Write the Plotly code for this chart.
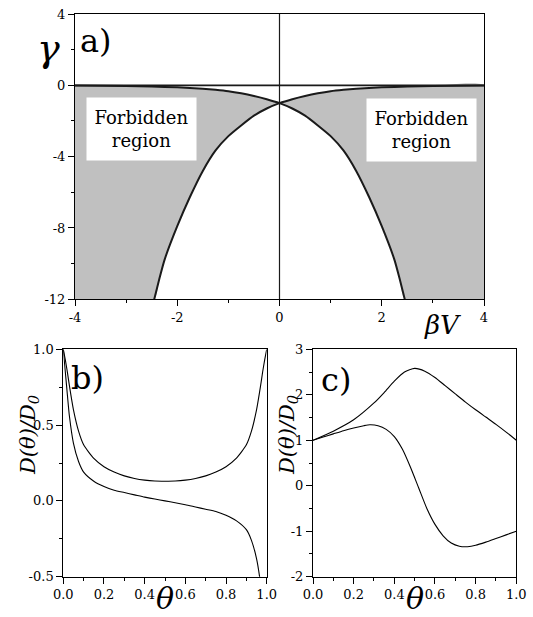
import plotly.graph_objects as go

# ---------- Panel a data ----------
bv_a = [-4, -3, -2.5, -2, -1.5, -1.25, -1, -0.75, -0.5, -0.25, 0,
        0.25, 0.5, 0.75, 1.0, 1.25, 1.5, 1.75, 2.0, 2.25, 2.35, 2.45]
gamma_a = [-0.015, -0.04, -0.07, -0.11, -0.19, -0.25, -0.33, -0.45, -0.6, -0.78, -1.0,
           -1.3, -1.7, -2.25, -2.85, -3.65, -4.8, -6.25, -7.9, -9.8, -10.85, -12.0]
bv_b = [4, 3, 2.5, 2, 1.5, 1.25, 1, 0.75, 0.5, 0.25, 0,
        -0.25, -0.5, -0.75, -1.0, -1.25, -1.5, -1.75, -2.0, -2.25, -2.35, -2.45]
gamma_b = [-0.015, -0.04, -0.07, -0.11, -0.19, -0.25, -0.33, -0.45, -0.6, -0.78, -1.0,
           -1.3, -1.7, -2.25, -2.85, -3.65, -4.8, -6.25, -7.9, -9.8, -10.85, -12.0]
a_xticks = [-4, -2, 0, 2, 4]
a_xticktext = ["-4", "-2", "0", "2", "4"]
a_yticks = [4, 0, -4, -8, -12]
a_yticktext = ["4", "0", "-4", "-8", "-12"]

# ---------- Panel b data ----------
theta_b_up = [0, 0.01, 0.02, 0.03, 0.05, 0.075, 0.1, 0.15, 0.2, 0.25, 0.3, 0.35, 0.4, 0.45, 0.5,
              0.55, 0.6, 0.65, 0.7, 0.75, 0.8, 0.85, 0.9, 0.925, 0.95, 0.97, 0.98, 0.99, 1.0]
d_b_up = [1.0, 0.93, 0.85, 0.76, 0.60, 0.46, 0.37, 0.28, 0.225, 0.19, 0.165, 0.148, 0.137, 0.131, 0.13,
          0.131, 0.137, 0.148, 0.165, 0.19, 0.225, 0.28, 0.37, 0.46, 0.60, 0.76, 0.85, 0.93, 1.0]
theta_b_lo = [0, 0.01, 0.02, 0.03, 0.05, 0.075, 0.1, 0.15, 0.2, 0.25, 0.3, 0.35, 0.4, 0.45, 0.5,
              0.55, 0.6, 0.65, 0.7, 0.75, 0.8, 0.85, 0.9, 0.925, 0.95, 0.965, 0.975]
d_b_lo = [1.0, 0.85, 0.70, 0.56, 0.38, 0.26, 0.19, 0.13, 0.095, 0.07, 0.055, 0.04, 0.025, 0.012, 0.0,
          -0.012, -0.025, -0.04, -0.055, -0.07, -0.095, -0.13, -0.19, -0.26, -0.38, -0.5, -0.62]
b_yticks = [1.0, 0.5, 0.0, -0.5]
b_yticktext = ["1.0", "0.5", "0.0", "-0.5"]

# ---------- Panel c data ----------
theta_c_up = [0, 0.1, 0.2, 0.3, 0.35, 0.4, 0.45, 0.5, 0.55, 0.6, 0.65, 0.7, 0.75, 0.8, 0.85, 0.9, 0.95, 1.0]
d_c_up = [1.0, 1.2, 1.45, 1.82, 2.05, 2.3, 2.5, 2.58, 2.52, 2.38, 2.2, 2.02, 1.84, 1.67, 1.51, 1.35, 1.18, 1.0]
theta_c_lo = [0, 0.05, 0.1, 0.15, 0.2, 0.25, 0.28, 0.32, 0.36, 0.4, 0.44, 0.48, 0.52, 0.56, 0.6,
              0.64, 0.68, 0.72, 0.76, 0.8, 0.85, 0.9, 0.95, 1.0]
d_c_lo = [1.0, 1.07, 1.14, 1.21, 1.27, 1.32, 1.34, 1.32, 1.24, 1.08, 0.8, 0.4, -0.05, -0.5, -0.85,
          -1.1, -1.26, -1.33, -1.34, -1.31, -1.24, -1.16, -1.08, -1.0]
c_yticks = [3, 2, 1, 0, -1, -2]
c_yticktext = ["3", "2", "1", "0", "-1", "-2"]

theta_ticks = [0, 0.2, 0.4, 0.6, 0.8, 1.0]
theta_ticktext = ["0.0", "0.2", "0.4", "0.6", "0.8", "1.0"]

SERIF = "DejaVu Serif"
GRAY = "#c0c0c0"

fig = go.Figure()

# Forbidden regions (fills), built from the curve arrays
left_x = [x for x in bv_a if x <= 0] + [x for x in bv_b if x <= 0] + [-4]
left_y = [g for x, g in zip(bv_a, gamma_a) if x <= 0] + [g for x, g in zip(bv_b, gamma_b) if x <= 0] + [-12]
right_x = [x for x in bv_b if x >= 0][::-1] + [4] + [x for x in bv_a if x >= 0][::-1]
right_y = [g for x, g in zip(bv_b, gamma_b) if x >= 0][::-1] + [-12] + [g for x, g in zip(bv_a, gamma_a) if x >= 0][::-1]
for xs, ys in [(left_x, left_y), (right_x, right_y)]:
    fig.add_trace(go.Scatter(x=xs, y=ys, fill="toself", fillcolor=GRAY, mode="lines",
                             line=dict(width=0, color=GRAY, shape="spline", smoothing=0.5),
                             xaxis="x", yaxis="y", hoverinfo="skip"))

for xs, ys in [(bv_a, gamma_a), (bv_b, gamma_b)]:
    fig.add_trace(go.Scatter(x=xs, y=ys, mode="lines",
                             line=dict(color="#1a1a1a", width=2, shape="spline", smoothing=0.5),
                             xaxis="x", yaxis="y"))

for xs, ys in [(theta_b_up, d_b_up), (theta_b_lo, d_b_lo)]:
    fig.add_trace(go.Scatter(x=xs, y=ys, mode="lines",
                             line=dict(color="black", width=1.1, shape="spline", smoothing=0.6),
                             xaxis="x2", yaxis="y2"))
for xs, ys in [(theta_c_up, d_c_up), (theta_c_lo, d_c_lo)]:
    fig.add_trace(go.Scatter(x=xs, y=ys, mode="lines",
                             line=dict(color="black", width=1.1, shape="spline", smoothing=0.6),
                             xaxis="x3", yaxis="y3"))

W, H = 533, 617
def px(x):
    return x / W
def py(y):
    return 1 - y / H

tickfont = dict(family=SERIF, size=13, color="black")
def ax(domain, rng, tickvals, ticktext, minor_dtick, anchor):
    return dict(domain=domain, range=rng, tickvals=tickvals, ticktext=ticktext,
                showline=True, linecolor="black", linewidth=1, mirror=True,
                ticks="outside", ticklen=6, tickwidth=1, tickcolor="black",
                showgrid=False, zeroline=False, tickfont=tickfont, anchor=anchor,
                automargin=False, fixedrange=True,
                minor=dict(ticks="outside", ticklen=3, tickwidth=1, tickcolor="black",
                           dtick=minor_dtick, tick0=0, showgrid=False))

fig.update_layout(
    width=W, height=H, margin=dict(l=0, r=0, t=0, b=0, autoexpand=False),
    paper_bgcolor="white", plot_bgcolor="white", showlegend=False,
    font=dict(family=SERIF, color="black"),
    xaxis=ax([px(75), px(484)], [-4, 4], a_xticks, a_xticktext, 1, "y"),
    yaxis=ax([py(299.3), py(14)], [-12, 4], a_yticks, a_yticktext, 2, "x"),
    xaxis2=ax([px(63.3), px(266.7)], [0, 1], theta_ticks, theta_ticktext, 0.1, "y2"),
    yaxis2=ax([py(576.7), py(349.3)], [-0.5, 1.0], b_yticks, b_yticktext, 0.25, "x2"),
    xaxis3=ax([px(313), px(516.3)], [0, 1], theta_ticks, theta_ticktext, 0.1, "y3"),
    yaxis3=ax([py(576.7), py(349.3)], [-2, 3], c_yticks, c_yticktext, 0.5, "x3"),
)

# reference lines in panel a
fig.add_shape(type="line", xref="x", yref="y", x0=-4, x1=4, y0=0, y1=0,
              line=dict(color="#1a1a1a", width=1.6))
fig.add_shape(type="line", xref="x", yref="y", x0=0, x1=0, y0=-12, y1=4,
              line=dict(color="#1a1a1a", width=1.2))

# Forbidden region labels
for xc, yc in [(-2.70, -2.43), (2.77, -2.5)]:
    fig.add_annotation(x=xc, y=yc, xref="x", yref="y", text="Forbidden<br>region",
                       showarrow=False, bgcolor="white", width=107, height=60,
                       font=dict(family=SERIF, size=18, color="black"))

def label(x, y, text, size, angle=0):
    fig.add_annotation(x=px(x), y=py(y), xref="paper", yref="paper", text=text,
                       showarrow=False, textangle=angle, xanchor="center", yanchor="middle",
                       font=dict(family=SERIF, size=size, color="black"))

label(48, 48, "<i>γ</i>", 38)
label(96, 41, "a)", 32)
label(442, 325, "<i>βV</i>", 26)
label(87, 378, "b)", 32)
label(336, 380, "c)", 32)
label(165, 598, "<i>θ</i>", 30)
label(415, 598, "<i>θ</i>", 30)
label(29, 435, "<i>D(θ)/D<sub>0</sub></i>", 21, -90)
label(288, 435, "<i>D(θ)/D<sub>0</sub></i>", 21, -90)

fig.write_html("out.html", config={"displayModeBar": False},
               post_script="document.body.style.margin='0';document.body.style.padding='0';")
